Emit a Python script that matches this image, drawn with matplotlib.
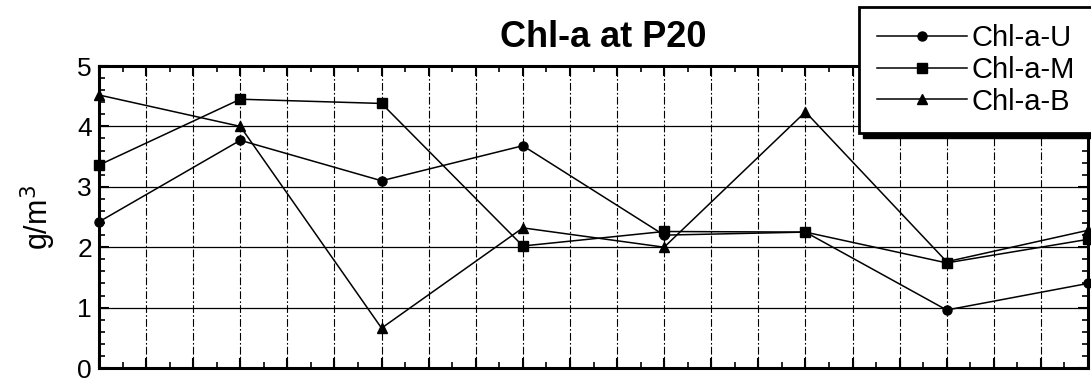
import numpy as np
import matplotlib
matplotlib.use("Agg")
import matplotlib.pyplot as plt
from matplotlib.ticker import MultipleLocator
from matplotlib.patches import Rectangle

plt.rcParams['font.family'] = ['Liberation Sans', 'DejaVu Sans']

# sampling positions along the x axis (no labels on the original)
x_pos = [0, 3, 6, 9, 12, 15, 18, 21]
chl_u = [2.42, 3.77, 3.10, 3.68, 2.20, 2.25, 0.96, 1.40]
chl_m = [3.36, 4.45, 4.38, 2.02, 2.26, 2.25, 1.74, 2.13]
chl_b = [4.52, 4.00, 0.66, 2.32, 2.00, 4.24, 1.76, 2.28]

fig = plt.figure(figsize=(10.91, 3.84), dpi=100)
ax = fig.add_axes((99 / 1091, 16 / 384, 989 / 1091, 302 / 384))

lw = 1.1
ax.plot(x_pos, chl_u, color='black', lw=lw, marker='o', ms=6.5, label='Chl-a-U', clip_on=False, zorder=5)
ax.plot(x_pos, chl_m, color='black', lw=lw, marker='s', ms=7, label='Chl-a-M', clip_on=False, zorder=5)
ax.plot(x_pos, chl_b, color='black', lw=lw, marker='^', ms=7.5, label='Chl-a-B', clip_on=False, zorder=5)

ax.set_xlim(0, 21)
ax.set_ylim(0, 5)
ax.xaxis.set_major_locator(MultipleLocator(1))
ax.xaxis.set_minor_locator(MultipleLocator(0.5))
ax.yaxis.set_major_locator(MultipleLocator(1))
ax.yaxis.set_minor_locator(MultipleLocator(0.2))
ax.set_xticklabels([])
ax.tick_params(which='both', direction='in', top=True, right=True, color='black')
ax.tick_params(which='major', length=7, width=1.5, labelsize=19, pad=5)
ax.tick_params(which='minor', length=4, width=1.2)
ax.tick_params(axis='x', which='major', labelbottom=False)

# grid: solid horizontal, dash-dot vertical
ax.grid(axis='y', which='major', color='black', lw=0.9, ls='-')
ax.grid(axis='x', which='major', color='black', lw=0.8, ls=(0, (7, 2, 1.5, 2)))
for s in ax.spines.values():
    s.set_linewidth(2.2)

ax.set_ylabel('g/m$^3$', fontsize=22, labelpad=14)
ax.set_title('Chl-a at P20', fontsize=26, fontweight='bold', pad=14, x=0.51)

# legend with a heavy drop shadow
fig.patches.append(Rectangle((863 / 1091, (384 - 138) / 384), 0.3, 14 / 384,
                             transform=fig.transFigure, color='black', zorder=9))
leg = fig.legend(loc='upper left', bbox_to_anchor=(859 / 1091, 1 - 7 / 384),
                 borderaxespad=0, fontsize=21, handlelength=3.1, handletextpad=0.15,
                 labelspacing=0.12, borderpad=0.6, fancybox=False, framealpha=1,
                 edgecolor='black')
leg.get_frame().set_linewidth(2)
leg.set_zorder(10)

fig.savefig('out.png', dpi=100)
